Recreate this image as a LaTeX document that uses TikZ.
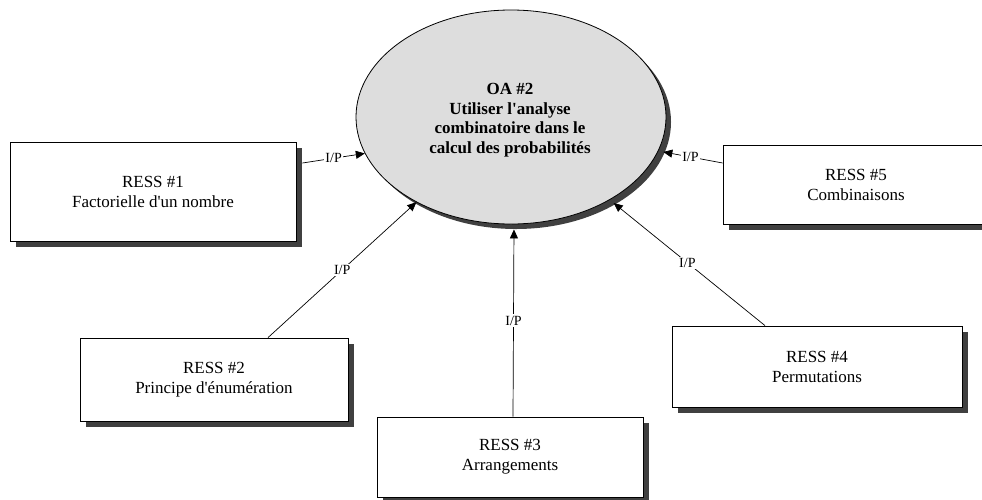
\documentclass[tikz,border=0pt]{standalone}
\usepackage{fontspec}
\setmainfont{Liberation Serif}[Ligatures=TeXOff]
\usetikzlibrary{shapes.geometric,shadows,arrows.meta}

\definecolor{shadowgray}{RGB}{64,64,64}
\definecolor{goalfill}{RGB}{221,221,221}

\tikzset{
  ressbox/.style={draw=black, line width=0.8pt, fill=white, rectangle,
    inner sep=0pt, align=center, font=\fontsize{17}{20}\selectfont,
    drop shadow={shadow xshift=6pt, shadow yshift=-6pt, fill=shadowgray, opacity=1}},
  goal/.style={draw=black, line width=0.8pt, fill=goalfill, ellipse,
    inner sep=0pt, minimum width=310pt, minimum height=214pt,
    drop shadow={shadow xshift=5pt, shadow yshift=-5pt, fill=shadowgray, opacity=1}},
  goaltext/.style={inner sep=0pt, align=center,
    font=\bfseries\fontsize{17}{19.5}\selectfont},
  link/.style={line width=0.7pt, -{Triangle[length=9pt,width=8pt]}},
  iplabel/.style={fill=white, inner sep=1.5pt, font=\fontsize{14}{16}\selectfont},
}

\begin{document}
\begin{tikzpicture}[x=1pt, y=-1pt]
  \useasboundingbox (0,0) rectangle (982,499);
  \clip (0,0) rectangle (982,499);

  % central learning objective
  \node[goal] (oa) at (511,117) {};
  \node[goaltext] (oatext) at (510,120)
    {OA \#2\\Utiliser l'analyse\\combinatoire dans le\\calcul des probabilités};

  % resources
  \node[ressbox, minimum width=286pt, minimum height=99pt] (b1) at (153,191.5)
    {RESS \#1\\Factorielle d'un nombre};
  \node[ressbox, minimum width=268pt, minimum height=83pt] (b2) at (214,379.5)
    {RESS \#2\\Principe d'énumération};
  \node[ressbox, minimum width=266pt, minimum height=80pt] (b3) at (510,457)
    {RESS \#3\\Arrangements};
  \node[ressbox, minimum width=290pt, minimum height=81pt] (b4) at (817,366.5)
    {RESS \#4\\Permutations};
  \node[ressbox, minimum width=266pt, minimum height=79pt] (b5) at (856,184.5)
    {RESS \#5\\Combinaisons};

  % input/prerequisite links
  \draw[link] ([shift={(6,-28.5)}]b1.east) -- (oa.194.5)
    node[iplabel, midway] (l1) {I/P};
  \draw[link] ([xshift=54pt]b2.north) -- (oa.222.5)
    node[iplabel, midway] (l2) {I/P};
  \draw[link, shorten >=5pt] ([xshift=3pt]b3.north) -- ([xshift=3pt]oa.south)
    node[iplabel, midway] (l3) {I/P};
  \draw[link, shorten >=5pt] ([xshift=-52pt]b4.north) -- (oa.320.3)
    node[iplabel, midway] (l4) {I/P};
  \draw[link, shorten >=5pt] ([yshift=21.5pt]b5.west) -- (oa.347)
    node[iplabel, midway] (l5) {I/P};
\end{tikzpicture}
\end{document}
